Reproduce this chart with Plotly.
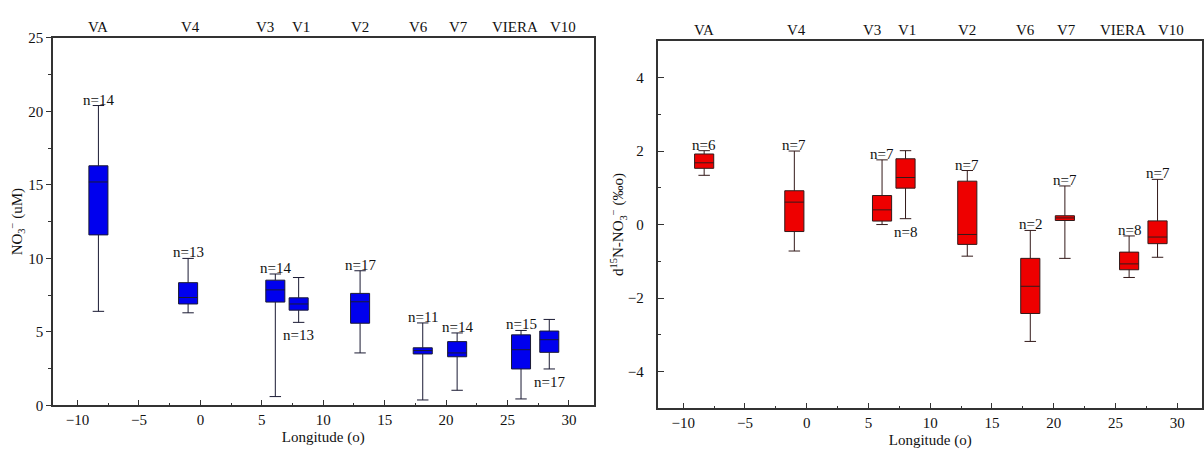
import plotly.graph_objects as go

# Station names and where their names sit along the top of each panel
stations = ["VA", "V4", "V3", "V1", "V2", "V6", "V7", "VIERA", "V10"]
label_lon = [-8.3, -0.8, 5.3, 8.15, 13.0, 17.75, 21.05, 25.6, 29.5]

# Box positions (longitude)
box_lon = [-8.3, -1.0, 6.1, 8.0, 13.0, 18.1, 20.9, 26.1, 28.4]

# Nitrate concentration (uM) summary statistics
no3_low = [6.4, 6.3, 0.6, 5.65, 3.57, 0.37, 1.03, 0.44, 2.48]
no3_q1 = [11.6, 6.9, 7.03, 6.48, 5.59, 3.5, 3.31, 2.48, 3.61]
no3_med = [15.2, 7.34, 7.86, 6.9, 7.05, 3.73, 3.57, 3.79, 4.47]
no3_q3 = [16.3, 8.35, 8.52, 7.32, 7.62, 3.92, 4.34, 4.8, 5.06]
no3_high = [20.4, 10.0, 8.94, 8.7, 9.16, 5.61, 4.93, 5.1, 5.85]
no3_n = [14, 13, 14, 13, 17, 11, 14, 15, 17]
no3_n_below = [False, False, False, True, False, False, False, False, True]

# d15N-NO3 (per mil) summary statistics
d15_low = [1.34, -0.72, 0.0, 0.16, -0.86, -3.18, -0.92, -1.44, -0.89]
d15_q1 = [1.53, -0.19, 0.095, 0.99, -0.54, -2.42, 0.11, -1.23, -0.52]
d15_med = [1.68, 0.61, 0.40, 1.28, -0.27, -1.68, 0.18, -1.07, -0.34]
d15_q3 = [1.92, 0.92, 0.79, 1.79, 1.18, -0.92, 0.24, -0.75, 0.10]
d15_high = [2.01, 2.0, 1.76, 2.01, 1.47, -0.16, 1.05, -0.31, 1.23]
d15_n = [6, 7, 7, 8, 7, 2, 7, 8, 7]
d15_n_below = [False, False, False, True, False, False, False, False, False]

FONT = "Liberation Serif"
TXT = "#111111"
W, H = 1204, 452

fig = go.Figure()

fig.add_trace(go.Box(
    x=box_lon, q1=no3_q1, median=no3_med, q3=no3_q3,
    lowerfence=no3_low, upperfence=no3_high,
    width=1.55, whiskerwidth=0.6, boxpoints=False,
    fillcolor="#0000EE", line=dict(color="#1a1a33", width=1),
    xaxis="x", yaxis="y", showlegend=False, hoverinfo="skip",
))
fig.add_trace(go.Box(
    x=box_lon, q1=d15_q1, median=d15_med, q3=d15_q3,
    lowerfence=d15_low, upperfence=d15_high,
    width=1.55, whiskerwidth=0.6, boxpoints=False,
    fillcolor="#EE0000", line=dict(color="#331a1a", width=1),
    xaxis="x2", yaxis="y2", showlegend=False, hoverinfo="skip",
))

annotations = []
# sample counts
for xs, ys_hi, ys_lo, ns, below, xr, yr in [
    (box_lon, no3_high, no3_low, no3_n, no3_n_below, "x", "y"),
    (box_lon, d15_high, d15_low, d15_n, d15_n_below, "x2", "y2"),
]:
    for x, hi, lo, n, b in zip(xs, ys_hi, ys_lo, ns, below):
        annotations.append(dict(
            x=x, y=lo if b else hi, xref=xr, yref=yr,
            text=f"n={n}", showarrow=False,
            yanchor="top" if b else "bottom",
            yshift=-3 if b else -4,
            font=dict(family=FONT, size=15, color=TXT),
        ))
# station names along the top
for xr, yr in [("x", "y"), ("x2", "y2")]:
    for name, lon in zip(stations, label_lon):
        annotations.append(dict(
            x=lon, y=1, xref=xr, yref=f"{yr} domain",
            text=name, showarrow=False, yanchor="middle", yshift=11,
            font=dict(family=FONT, size=15, color=TXT),
        ))

common_x = dict(
    range=[-12, 32], dtick=5, tick0=0, ticks="inside", ticklen=6,
    tickwidth=1, tickcolor="#333",
    minor=dict(dtick=2.5, tick0=0, ticks="inside", ticklen=3, tickcolor="#333"),
    showline=True, mirror=True, linecolor="#333", linewidth=1.5,
    showgrid=False, zeroline=False,
    tickfont=dict(family=FONT, size=15, color=TXT),
    title=dict(text="Longitude (o)", standoff=4,
               font=dict(family=FONT, size=15, color=TXT)),
)

fig.update_layout(
    width=W, height=H,
    margin=dict(l=0, r=0, t=0, b=0),
    paper_bgcolor="white", plot_bgcolor="white",
    font=dict(family=FONT, size=15, color=TXT),
    xaxis=dict(common_x, domain=[53 / W, 594 / W], anchor="y"),
    xaxis2=dict(common_x, domain=[659 / W, 1203 / W], anchor="y2"),
    yaxis=dict(
        domain=[1 - 412 / H, 1 - 31 / H], anchor="x",
        range=[0, 25], dtick=5, tick0=0, ticks="outside", ticklen=5,
        tickcolor="#333",
        minor=dict(dtick=2.5, tick0=0, ticks="outside", ticklen=3, tickcolor="#333"),
        showline=True, mirror=True, linecolor="#333", linewidth=1.5,
        showgrid=False, zeroline=False,
        tickfont=dict(family=FONT, size=15, color=TXT),
        title=dict(text="NO<sub>3</sub><sup>\u2212</sup> (uM)", standoff=2,
                   font=dict(family=FONT, size=15, color=TXT)),
    ),
    yaxis2=dict(
        domain=[1 - 415 / H, 1 - 34 / H], anchor="x2",
        range=[-5, 5], dtick=2, tick0=0, ticks="inside", ticklen=6,
        tickcolor="#333",
        minor=dict(dtick=1, tick0=0, ticks="inside", ticklen=3, tickcolor="#333"),
        showline=True, mirror=True, linecolor="#333", linewidth=1.5,
        showgrid=False, zeroline=False, ticklabelstandoff=10,
        tickfont=dict(family=FONT, size=15, color=TXT),
        title=dict(text="d<sup>15</sup>N-NO<sub>3</sub><sup>\u2212</sup> (\u2030o)",
                   standoff=0, font=dict(family=FONT, size=15, color=TXT)),
    ),
    annotations=annotations,
)

fig.write_html("out.html")
